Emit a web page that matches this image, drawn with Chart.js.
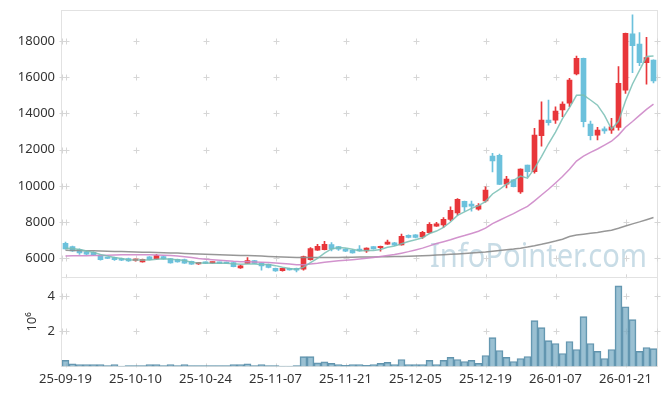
<!DOCTYPE html>
<html>
<head>
<meta charset="utf-8">
<script src="https://cdn.jsdelivr.net/npm/chart.js@4/dist/chart.umd.min.js"></script>
<style>
  html, body { margin: 0; padding: 0; background: #fff; }
</style>
</head>
<body>
<canvas id="chart" width="665" height="396"></canvas>
<script>
// trading days (yy-mm-dd)
const dates = [
  '25-09-19','25-09-22','25-09-23','25-09-24','25-09-25','25-09-26','25-09-29','25-09-30','25-10-01','25-10-02',
  '25-10-10','25-10-13','25-10-14','25-10-15','25-10-16','25-10-17','25-10-20','25-10-21','25-10-22','25-10-23',
  '25-10-24','25-10-27','25-10-28','25-10-29','25-10-30','25-10-31','25-11-03','25-11-04','25-11-05','25-11-06',
  '25-11-07','25-11-10','25-11-11','25-11-12','25-11-13','25-11-14','25-11-17','25-11-18','25-11-19','25-11-20',
  '25-11-21','25-11-24','25-11-25','25-11-26','25-11-27','25-11-28','25-12-01','25-12-02','25-12-03','25-12-04',
  '25-12-05','25-12-08','25-12-09','25-12-10','25-12-11','25-12-12','25-12-15','25-12-16','25-12-17','25-12-18',
  '25-12-19','25-12-22','25-12-23','25-12-24','25-12-26','25-12-29','25-12-30','26-01-02','26-01-05','26-01-06',
  '26-01-07','26-01-08','26-01-09','26-01-12','26-01-13','26-01-14','26-01-15','26-01-16','26-01-19','26-01-20',
  '26-01-21','26-01-22','26-01-23','26-01-26','26-01-27'
];

const opens = [
  6830,6650,6480,6350,6330,6160,6010,6040,5990,5990,
  5880,5800,6080,5960,6100,5980,5940,5930,5830,5690,
  5780,5730,5780,5770,5760,5470,5710,5880,5730,5660,
  5450,5310,5440,5450,5400,5930,6450,6480,6760,6640,
  6510,6440,6510,6410,6640,6580,6780,6860,6740,7270,
  7290,7180,7420,7780,7840,8140,8510,9150,8990,8710,
  9170,11640,11690,10090,10330,9670,11140,10780,12770,13630,
  13630,14190,14560,16180,17040,13410,12800,13150,13080,13230,
  15290,18390,17830,16800,16950
];
const highs = [
  6900,6680,6520,6380,6360,6180,6020,6060,6010,6010,
  5960,5960,6090,6220,6120,6000,5960,5950,5850,5770,
  5800,5790,5790,5790,5780,5610,6040,5890,5750,5680,
  5460,5450,5460,5460,6120,6590,6770,6940,6870,6660,
  6520,6460,6700,6580,6650,6680,7000,6880,7330,7290,
  7310,7490,7970,7990,8250,8840,9290,9160,9160,9020,
  9940,11790,11750,10530,10340,10940,11150,13170,14640,14740,
  14370,14640,15940,17170,17060,13580,13230,13260,13730,16590,
  18440,19440,18460,18200,16960
];
const lows = [
  6500,6380,6220,6200,6150,5900,5980,5880,5870,5830,
  5840,5790,5910,5940,5950,5730,5780,5720,5660,5660,
  5700,5710,5710,5700,5530,5440,5700,5700,5340,5470,
  5280,5290,5340,5250,5340,5900,6430,6460,6400,6440,
  6370,6280,6390,6330,6500,6390,6760,6700,6720,7130,
  7130,7100,7370,7760,7710,8060,8380,8600,8600,8650,
  9100,10770,10060,9890,9940,9580,10500,10700,12190,13350,
  13450,13820,14370,16120,13260,12530,12530,12890,12900,13080,
  15100,16250,16630,15620,15690
];
const closes = [
  6520,6400,6300,6230,6180,5920,5990,5920,5900,5850,
  5900,5940,5920,6150,5970,5750,5800,5730,5680,5740,
  5720,5770,5720,5710,5540,5590,5880,5720,5580,5490,
  5300,5440,5360,5350,6100,6530,6660,6770,6520,6500,
  6390,6300,6400,6560,6520,6660,6900,6720,7210,7150,
  7150,7440,7880,7900,8150,8650,9260,8840,8880,8910,
  9760,11370,10080,10370,9950,10920,10780,12800,13630,13490,
  14130,14510,15840,17040,13540,12770,13080,13030,13260,15660,
  18420,17740,16800,17080,15790
];
// volume, in units of 10^6
const volumes = [
  0.34,0.15,0.10,0.10,0.10,0.10,0.05,0.10,0.02,0.05,
  0.05,0.05,0.10,0.10,0.05,0.10,0.05,0.10,0.05,0.05,
  0.05,0.05,0.05,0.05,0.10,0.10,0.15,0.05,0.10,0.05,
  0.05,0.02,0.02,0.05,0.55,0.55,0.20,0.26,0.17,0.11,
  0.06,0.11,0.11,0.06,0.11,0.17,0.23,0.11,0.39,0.11,
  0.11,0.11,0.34,0.11,0.34,0.51,0.39,0.28,0.34,0.17,
  0.62,1.63,0.90,0.51,0.28,0.45,0.56,2.59,2.20,1.46,
  1.30,0.73,1.41,0.96,2.82,1.30,0.85,0.45,0.96,4.56,
  3.38,2.65,0.85,1.07,1.01
];
const ma5 = [
  6560,6540,6480,6400,6326,6206,6124,6048,5982,5916,
  5912,5902,5902,5952,5976,5946,5918,5880,5786,5740,
  5734,5728,5726,5732,5692,5666,5688,5688,5662,5652,
  5594,5506,5434,5388,5510,5756,6000,6282,6516,6596,
  6568,6496,6422,6430,6434,6488,6608,6672,6802,6928,
  7026,7134,7366,7504,7704,8004,8368,8560,8756,8908,
  9130,9552,9800,10098,10306,10538,10420,10964,11616,12324,
  12966,13712,14320,15002,15012,14740,14454,13892,13136,13560,
  14690,15622,16376,17140,17166
];
const ma20 = [
  6130,6135,6140,6145,6150,6160,6170,6180,6190,6195,
  6200,6200,6195,6185,6170,6150,6120,6080,6040,5990,
  5950,5918,5889,5863,5831,5815,5809,5799,5783,5765,
  5735,5710,5682,5642,5649,5688,5731,5783,5825,5863,
  5896,5923,5957,5999,6048,6102,6153,6203,6284,6367,
  6460,6560,6686,6813,6916,7022,7152,7255,7373,7494,
  7662,7916,8100,8290,8462,8675,8869,9173,9494,9811,
  10160,10513,10911,11368,11638,11844,12035,12244,12463,12801,
  13234,13552,13888,14224,14516
];
const maLong = [
  6440,6435,6430,6420,6410,6400,6390,6380,6370,6360,
  6350,6340,6330,6320,6310,6295,6285,6270,6255,6240,
  6225,6210,6200,6185,6170,6160,6150,6135,6120,6105,
  6090,6075,6060,6050,6040,6040,6040,6040,6045,6050,
  6055,6060,6065,6070,6075,6085,6090,6100,6105,6115,
  6125,6140,6160,6180,6200,6220,6240,6265,6290,6320,
  6350,6390,6430,6470,6510,6560,6620,6690,6770,6860,
  6950,7050,7200,7280,7330,7380,7430,7490,7550,7660,
  7780,7900,8010,8130,8250
];
const priceTicks = [6000, 8000, 10000, 12000, 14000, 16000, 18000];
const volumeTicks = [2, 4];

const UP = '#e8363a';
const DOWN = '#6cc1dc';
const FRAME = '#e2e2e2';
const CROSS = '#d6d6d6';

Chart.defaults.font.family = "'Noto Sans', sans-serif";
Chart.defaults.font.size = 13;
Chart.defaults.color = '#333';

const candleColor = ctx => closes[ctx.dataIndex] >= opens[ctx.dataIndex] ? UP : DOWN;

// fixed axis width, and no extra room for half labels at the panel ends
const fitLeftAxis = s => {
  s.width = 62;
  s.paddingTop = 0;
  s.paddingBottom = 0;
};

// frame around each panel plus small "+" marks where the grid would cross
const panelGrid = {
  id: 'panelGrid',
  beforeDatasetsDraw(chart) {
    const {ctx, chartArea, scales} = chart;
    const xs = [];
    dates.forEach((d, i) => { if (i % 10 === 0) xs.push(scales.x.getPixelForValue(i)); });
    ctx.save();
    ctx.lineWidth = 1;
    [['y', priceTicks], ['yv', volumeTicks]].forEach(([id, ticks]) => {
      const s = scales[id];
      ctx.strokeStyle = FRAME;
      ctx.strokeRect(Math.round(chartArea.left) - 0.5, Math.round(s.top) + 0.5,
        Math.round(chartArea.right - chartArea.left) + 1, Math.round(s.bottom - s.top));
      ctx.strokeStyle = CROSS;
      ctx.beginPath();
      ticks.forEach(v => {
        const py = Math.round(s.getPixelForValue(v)) + 0.5;
        [chartArea.left, ...xs, chartArea.right].forEach(px => {
          px = Math.round(px) + 0.5;
          ctx.moveTo(px - 3, py); ctx.lineTo(px + 3, py);
          ctx.moveTo(px, py - 3); ctx.lineTo(px, py + 3);
        });
      });
      xs.forEach(px => {
        px = Math.round(px) + 0.5;
        ctx.moveTo(px, s.bottom - 3); ctx.lineTo(px, s.bottom + 1);
      });
      ctx.stroke();
    });
    ctx.restore();
  }
};

const watermark = {
  id: 'watermark',
  beforeDatasetsDraw(chart) {
    const {ctx, chartArea, scales} = chart;
    const text = 'InfoPointer.com';
    ctx.save();
    ctx.font = "33px 'Noto Sans', sans-serif";
    const w = ctx.measureText(text).width;
    const target = 217;
    const right = chartArea.right - 10;
    const base = scales.y.bottom - 10;
    ctx.translate(right - target, base);
    ctx.scale(target / w, 1);
    ctx.fillStyle = 'rgba(160,195,212,0.58)';
    ctx.textBaseline = 'alphabetic';
    ctx.fillText(text, 0, 0);
    ctx.restore();
  }
};

new Chart(document.getElementById('chart'), {
  type: 'bar',
  data: {
    labels: dates,
    datasets: [
      {
        type: 'line', label: 'MA5', data: ma5, yAxisID: 'y', order: 0,
        borderColor: 'rgba(120,190,180,0.85)', borderWidth: 1.5, pointRadius: 0
      },
      {
        type: 'line', label: 'MA20', data: ma20, yAxisID: 'y', order: 0,
        borderColor: 'rgba(205,135,200,0.9)', borderWidth: 1.5, pointRadius: 0
      },
      {
        type: 'line', label: 'MA120', data: maLong, yAxisID: 'y', order: 0,
        borderColor: 'rgba(140,140,140,0.9)', borderWidth: 1.5, pointRadius: 0
      },
      {
        label: 'body', data: opens.map((o, i) => [o, closes[i]]), yAxisID: 'y', order: 1,
        backgroundColor: candleColor, barThickness: 5, grouped: false, minBarLength: 1.5
      },
      {
        label: 'wick', data: lows.map((l, i) => [l, highs[i]]), yAxisID: 'y', order: 2,
        backgroundColor: candleColor, barThickness: 1, grouped: false
      },
      {
        label: 'volume', data: volumes, yAxisID: 'yv', order: 3,
        backgroundColor: 'rgba(115,168,192,0.72)', borderColor: 'rgba(70,128,158,0.85)',
        borderWidth: 1, barPercentage: 1, categoryPercentage: 1, grouped: false
      }
    ]
  },
  options: {
    responsive: false,
    animation: false,
    layout: { padding: { top: 10, right: 8, left: 0, bottom: 4 } },
    plugins: { legend: { display: false }, tooltip: { enabled: false } },
    scales: {
      x: {
        type: 'category',
        offset: true,
        grid: { display: false, drawTicks: false },
        border: { display: false },
        ticks: {
          autoSkip: false, maxRotation: 0, padding: 5,
          callback: (v, i) => (i % 10 === 0 ? dates[i] : null)
        }
      },
      yv: {
        position: 'left', stack: 'panels', stackWeight: 1,
        min: 0, max: 5.05,
        grid: { display: false, drawTicks: false },
        border: { display: false },
        title: { display: true, text: '10⁶', padding: { top: 24, bottom: 0 } },
        ticks: { padding: 7, callback: v => v },
        afterBuildTicks: s => { s.ticks = volumeTicks.map(v => ({ value: v })); },
        afterFit: fitLeftAxis
      },
      y: {
        position: 'left', stack: 'panels', stackWeight: 3,
        min: 4950, max: 19710,
        grid: { display: false, drawTicks: false },
        border: { display: false },
        ticks: { padding: 7, callback: v => v },
        afterBuildTicks: s => { s.ticks = priceTicks.map(v => ({ value: v })); },
        afterFit: fitLeftAxis
      }
    }
  },
  plugins: [watermark, panelGrid]
});
</script>
</body>
</html>
